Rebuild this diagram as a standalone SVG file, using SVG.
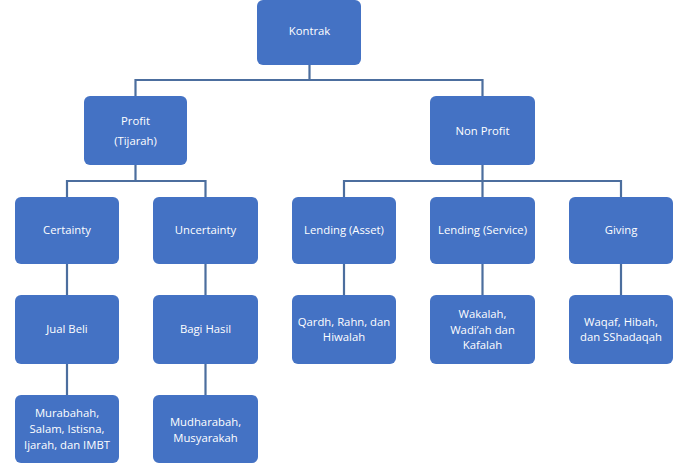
<svg xmlns="http://www.w3.org/2000/svg" width="686" height="470" viewBox="0 0 686 470">
<style>
.box{fill:#4472C4;}
.t{fill:#fff;font-family:"Open Sans","Noto Sans",sans-serif;font-size:11.3px;text-anchor:middle;}
.c{fill:none;stroke:#4C6E9E;stroke-width:2.2;}
</style>
<rect width="686" height="470" fill="#fff"/>
<g id="connectors">
<path class="c" d="M309.5 65V80M135.5 96V80H482.5V96"/>
<path class="c" d="M135.5 165V181M67 197V181H205.5V197"/>
<path class="c" d="M482.5 165V181M344 197V181H621V197M482.5 181V197"/>
<path class="c" d="M67 264V295M205.5 264V295M67 364V395M205.5 364V395"/>
<path class="c" d="M344 264V295M482.5 264V295M621 264V295"/>
</g>
<g id="kontrak"><rect class="box" x="257" y="0" width="104" height="65" rx="6"/><text class="t" x="309.5" y="35">Kontrak</text></g>
<g id="profit"><rect class="box" x="84" y="96" width="103" height="69" rx="6"/><text class="t" x="135.5" y="125">Profit</text><text class="t" x="135.5" y="145">(Tijarah)</text></g>
<g id="nonprofit"><rect class="box" x="430" y="96" width="105" height="69" rx="6"/><text class="t" x="482.5" y="135">Non Profit</text></g>
<g id="certainty"><rect class="box" x="15" y="197" width="104" height="67" rx="6"/><text class="t" x="67" y="234">Certainty</text></g>
<g id="uncertainty"><rect class="box" x="153" y="197" width="105" height="67" rx="6"/><text class="t" x="205.5" y="234">Uncertainty</text></g>
<g id="lending-asset"><rect class="box" x="292" y="197" width="104" height="67" rx="6"/><text class="t" x="344" y="234">Lending (Asset)</text></g>
<g id="lending-service"><rect class="box" x="430" y="197" width="105" height="67" rx="6"/><text class="t" x="482.5" y="234">Lending (Service)</text></g>
<g id="giving"><rect class="box" x="569" y="197" width="104" height="67" rx="6"/><text class="t" x="621" y="234">Giving</text></g>
<g id="jual-beli"><rect class="box" x="15" y="295" width="104" height="69" rx="6"/><text class="t" x="67" y="333">Jual Beli</text></g>
<g id="bagi-hasil"><rect class="box" x="153" y="295" width="105" height="69" rx="6"/><text class="t" x="205.5" y="333">Bagi Hasil</text></g>
<g id="qardh"><rect class="box" x="292" y="295" width="104" height="69" rx="6"/><text class="t" x="344" y="326">Qardh, Rahn, dan</text><text class="t" x="344" y="341">Hiwalah</text></g>
<g id="wakalah"><rect class="box" x="430" y="295" width="105" height="69" rx="6"/><text class="t" x="482.5" y="318">Wakalah,</text><text class="t" x="482.5" y="334">Wadi’ah dan</text><text class="t" x="482.5" y="349">Kafalah</text></g>
<g id="waqaf"><rect class="box" x="569" y="295" width="104" height="69" rx="6"/><text class="t" x="621" y="326">Waqaf, Hibah,</text><text class="t" x="621" y="341">dan SShadaqah</text></g>
<g id="murabahah"><rect class="box" x="15" y="395" width="104" height="68" rx="6"/><text class="t" x="67" y="417">Murabahah,</text><text class="t" x="67" y="433">Salam, Istisna,</text><text class="t" x="67" y="449">Ijarah, dan IMBT</text></g>
<g id="mudharabah"><rect class="box" x="153" y="395" width="105" height="68" rx="6"/><text class="t" x="205.5" y="426">Mudharabah,</text><text class="t" x="205.5" y="442">Musyarakah</text></g>
</svg>
